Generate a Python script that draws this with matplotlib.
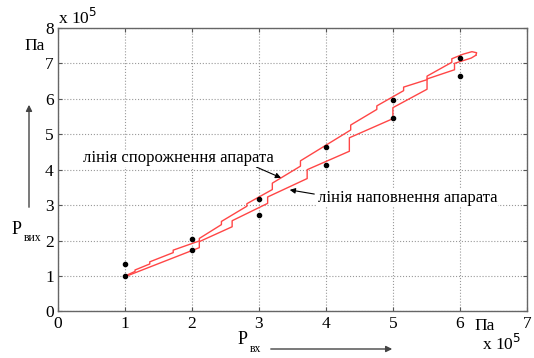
import numpy as np
import matplotlib
matplotlib.use("Agg")
import matplotlib.pyplot as plt

plt.rcParams['font.family'] = ['Liberation Serif', 'DejaVu Serif']

# експериментальні точки (x 10^5 Па)
p_in_pts = [1, 1, 2, 2, 3, 3, 4, 4, 5, 5, 6, 6]
p_out_pts = [1.0, 1.35, 2.04, 1.73, 3.17, 2.72, 4.64, 4.13, 5.96, 5.45, 7.14, 6.63]

# лінія спорожнення апарата
up_x = [1.00, 1.15, 1.15, 1.37, 1.37, 1.72, 1.72, 2.11, 2.11, 2.44, 2.44,
        2.82, 2.82, 3.20, 3.20, 3.62, 3.62, 4.37, 4.37, 4.76, 4.76, 5.16, 5.16,
        5.51, 5.51, 5.88, 5.88, 6.05, 6.18, 6.25, 6.24]
up_y = [1.00, 1.13, 1.17, 1.34, 1.40, 1.66, 1.73, 1.99, 2.06, 2.45, 2.54,
        2.97, 3.04, 3.44, 3.62, 4.10, 4.25, 5.12, 5.26, 5.70, 5.80, 6.23, 6.33,
        6.54, 6.64, 7.03, 7.13, 7.26, 7.33, 7.30, 7.23]

# лінія наповнення апарата
low_x = [1.00, 2.11, 2.11, 2.60, 2.60, 3.13, 3.13, 3.72, 3.72, 4.35, 4.35,
         5.00, 5.00, 5.51, 5.51, 5.92, 5.92, 6.17, 6.24]
low_y = [0.98, 1.80, 1.97, 2.39, 2.56, 3.05, 3.23, 3.75, 4.00, 4.52, 4.90,
         5.44, 5.75, 6.27, 6.56, 6.82, 7.00, 7.15, 7.23]

fig = plt.figure(figsize=(5.34, 3.58), dpi=100)
ax = fig.add_axes([0.1086, 0.130, 0.878, 0.792])

ax.plot(up_x, up_y, color='#ff4646', lw=1.0)
ax.plot(low_x, low_y, color='#ff4646', lw=1.0)
ax.plot(p_in_pts, p_out_pts, 'o', color='black', ms=3.0)

ax.set_xlim(0, 7)
ax.set_ylim(0, 8)
ax.set_xticks(range(8))
ax.set_yticks(range(9))
ax.grid(True, linestyle=':', color='#999999', linewidth=0.8)
ax.tick_params(direction='in', top=True, right=True, length=3,
               color='#555555', labelsize=12.5, pad=3)
for s in ax.spines.values():
    s.set_color('#666666')
    s.set_linewidth(1.0)

# підписи ліній зі стрілками
ax.annotate('лінія спорожнення апарата', xy=(3.33, 3.77), xytext=(1.80, 4.32),
            fontsize=12, ha='center', va='center',
            bbox=dict(fc='white', ec='none', pad=0.5),
            arrowprops=dict(arrowstyle='-|>', color='black', lw=0.8,
                            mutation_scale=8, shrinkA=0, shrinkB=0,
                            relpos=(0.9, 0.0)))
ax.annotate('лінія наповнення апарата', xy=(3.46, 3.43), xytext=(5.22, 3.20),
            fontsize=12, ha='center', va='center',
            bbox=dict(fc='white', ec='none', pad=0.5),
            arrowprops=dict(arrowstyle='-|>', color='black', lw=0.8,
                            mutation_scale=8, shrinkA=0, shrinkB=0,
                            relpos=(-0.02, 0.75)))

# множники і одиниці
fig.text(58 / 534, 1 - 18 / 358, 'x 10$^5$', fontsize=12.5, ha='left', va='center')
fig.text(482 / 534, 1 - 344 / 358, 'x 10$^5$', fontsize=12.5, ha='left', va='center')
fig.text(35 / 534, 1 - 46 / 358, 'Па', fontsize=12.5, ha='center', va='center')
fig.text(485 / 534, 1 - 326 / 358, 'Па', fontsize=12.5, ha='center', va='center')

# Рвх з горизонтальною стрілкою
fig.text(238 / 534, 1 - 340 / 358, 'P', fontsize=13, ha='left', va='center')
fig.text(250 / 534, 1 - 349 / 358, 'вх', fontsize=8.5, ha='left', va='center')
fig.add_artist(matplotlib.patches.FancyArrowPatch(
    (268 / 534, 1 - 349 / 358), (395 / 534, 1 - 349 / 358),
    transform=fig.transFigure, arrowstyle='-|>', mutation_scale=9,
    color='#444444', lw=1.0))

# Рвих з вертикальною стрілкою
fig.text(12 / 534, 1 - 229 / 358, 'P', fontsize=13, ha='left', va='center')
fig.text(24 / 534, 1 - 238 / 358, 'вих', fontsize=8.5, ha='left', va='center')
fig.add_artist(matplotlib.patches.FancyArrowPatch(
    (29 / 534, 1 - 210 / 358), (29 / 534, 1 - 102 / 358),
    transform=fig.transFigure, arrowstyle='-|>', mutation_scale=9,
    color='#444444', lw=1.0))

fig.savefig('out.png', dpi=100)
